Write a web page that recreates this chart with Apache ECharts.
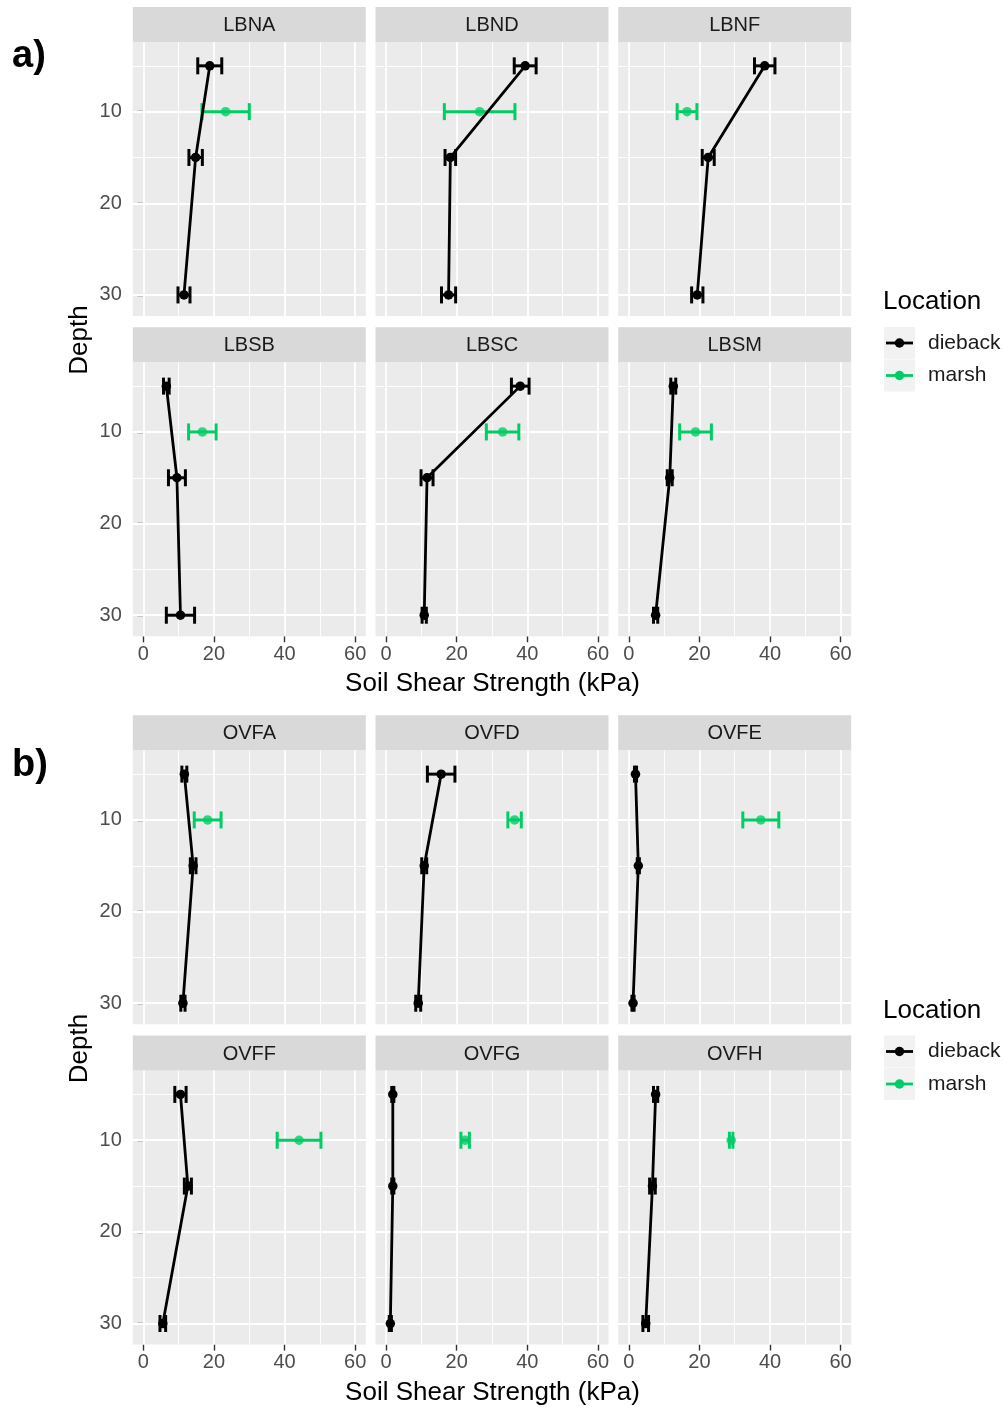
<!DOCTYPE html>
<html>
<head>
<meta charset="utf-8">
<script src="https://cdn.jsdelivr.net/npm/echarts@6/dist/echarts.min.js"></script>
<style>
html,body{margin:0;padding:0;background:#fff;}
#chart{width:1004px;height:1407px;}
</style>
</head>
<body>
<div id="chart"></div>
<script>
// ---------------- DATA ----------------
const sitesA = ['LBNA', 'LBND', 'LBNF', 'LBSB', 'LBSC', 'LBSM'];
const sitesB = ['OVFA', 'OVFD', 'OVFE', 'OVFF', 'OVFG', 'OVFH'];
const diebackDepths = [5, 15, 30];
const marshDepth = 10;
// dieback means (kPa) at depths 5, 15, 30
const diebackMeanA = [[18.8, 14.8, 11.5], [39.4, 18.2, 17.7], [38.5, 22.5, 19.4], [6.5, 9.5, 10.5], [38.0, 11.6, 10.8], [12.6, 11.6, 7.6]];
const diebackErrA  = [[3.4, 1.9, 1.7], [3.1, 1.5, 2.0], [2.9, 1.7, 1.6], [0.8, 2.4, 4.0], [2.5, 1.7, 0.6], [0.7, 0.7, 0.6]];
const marshMeanA = [23.3, 26.5, 16.5, 16.7, 33.0, 18.9];
const marshErrA  = [6.7, 10.0, 2.8, 3.9, 4.6, 4.5];
const diebackMeanB = [[11.6, 14.1, 11.2], [15.6, 10.8, 9.1], [1.9, 2.7, 1.2], [10.5, 12.6, 5.5], [1.9, 1.9, 1.2], [7.6, 6.7, 4.8]];
const diebackErrB  = [[0.7, 0.8, 0.6], [3.9, 0.7, 0.7], [0.3, 0.3, 0.3], [1.6, 1.0, 0.8], [0.3, 0.3, 0.3], [0.6, 0.8, 0.8]];
const marshMeanB = [18.2, 36.4, 37.4, 44.1, 22.4, 29.0];
const marshErrB  = [3.8, 1.9, 5.1, 6.2, 1.2, 0.5];
const xTicks = [0, 20, 40, 60];
const xMinor = [10, 30, 50];
const yTicks = [10, 20, 30];
const yMinor = [5, 15, 25];
const groupNames = ['dieback', 'marsh'];
const xTitle = 'Soil Shear Strength (kPa)';
const yTitle = 'Depth';
const legendTitle = 'Location';
const figLabels = ['a)', 'b)'];

// ---------------- LAYOUT ----------------
const FONT = '"Liberation Sans", Arial, Helvetica, sans-serif';
const BLACK = '#000000';
const GREEN = '#00CD66';
const colLefts = [132.8, 375.5, 618.2];
const PW = 233, PH = 274, STRIP = 35;
const figs = [
  {sites: sitesA, dm: diebackMeanA, de: diebackErrA, mm: marshMeanA, me: marshErrA, tops: [42, 362.3], off: 0},
  {sites: sitesB, dm: diebackMeanB, de: diebackErrB, mm: marshMeanB, me: marshErrB, tops: [750.3, 1070.6], off: 708.5}
];

const grids = [], xAxes = [], yAxes = [], series = [], graphics = [];

function errRender(color) {
  return function (params, api) {
    const lo = api.coord([api.value(0), api.value(2)]);
    const hi = api.coord([api.value(1), api.value(2)]);
    const h = 8.5;
    const st = {stroke: color, lineWidth: 3};
    return {type: 'group', children: [
      {type: 'line', shape: {x1: lo[0], y1: lo[1], x2: hi[0], y2: hi[1]}, style: st},
      {type: 'line', shape: {x1: lo[0], y1: lo[1] - h, x2: lo[0], y2: lo[1] + h}, style: st},
      {type: 'line', shape: {x1: hi[0], y1: hi[1] - h, x2: hi[0], y2: hi[1] + h}, style: st}
    ]};
  };
}

let gi = 0;
figs.forEach((f, fi) => {
  f.sites.forEach((site, si) => {
    const row = Math.floor(si / 3), col = si % 3;
    const left = colLefts[col], top = f.tops[row];
    const isBottom = row === 1, isLeft = col === 0;
    grids.push({left: left, top: top, width: PW, height: PH, show: true, backgroundColor: '#EBEBEB', borderWidth: 0, containLabel: false});
    xAxes.push({
      type: 'value', gridIndex: gi, min: -3, max: 63,
      axisLine: {show: false}, splitLine: {show: false},
      axisTick: {show: isBottom, customValues: xTicks, length: 6, lineStyle: {color: '#333333', width: 1.4}},
      axisLabel: {show: isBottom, customValues: xTicks, fontSize: 20, color: '#4D4D4D', margin: 8, fontFamily: FONT}
    });
    yAxes.push({
      type: 'value', gridIndex: gi, inverse: true, min: 2.4, max: 32.3,
      axisLine: {show: false}, splitLine: {show: false},
      axisTick: {show: isLeft, customValues: yTicks, length: 6, lineStyle: {color: '#333333', width: 1.4}},
      axisLabel: {show: isLeft, customValues: yTicks, fontSize: 20, color: '#4D4D4D', margin: 11, fontFamily: FONT}
    });
    // grid lines
    const ml = [];
    yMinor.forEach(v => ml.push({yAxis: v, lineStyle: {color: '#FFFFFF', width: 0.9, type: 'solid'}}));
    xMinor.forEach(v => ml.push({xAxis: v, lineStyle: {color: '#FFFFFF', width: 0.9, type: 'solid'}}));
    yTicks.forEach(v => ml.push({yAxis: v, lineStyle: {color: '#FFFFFF', width: 1.8, type: 'solid'}}));
    xTicks.forEach(v => ml.push({xAxis: v, lineStyle: {color: '#FFFFFF', width: 1.8, type: 'solid'}}));
    series.push({
      type: 'line', xAxisIndex: gi, yAxisIndex: gi, data: [], z: 1, silent: true,
      markLine: {z: 1, silent: true, symbol: ['none', 'none'], label: {show: false}, animation: false, emphasis: {disabled: true}, data: ml}
    });
    // dieback error bars
    const dErr = diebackDepths.map((d, k) => [f.dm[si][k] - f.de[si][k], f.dm[si][k] + f.de[si][k], d]);
    series.push({type: 'custom', xAxisIndex: gi, yAxisIndex: gi, z: 3, silent: true,
      renderItem: errRender(BLACK), encode: {x: [0, 1], y: 2}, data: dErr});
    // dieback line + points
    series.push({type: 'line', name: groupNames[0], xAxisIndex: gi, yAxisIndex: gi, z: 4, silent: true,
      data: diebackDepths.map((d, k) => [f.dm[si][k], d]),
      symbol: 'circle', symbolSize: 9.5, showSymbol: true,
      lineStyle: {color: BLACK, width: 2.8}, itemStyle: {color: BLACK}, emphasis: {disabled: true}});
    // marsh error bar
    series.push({type: 'custom', xAxisIndex: gi, yAxisIndex: gi, z: 3, silent: true,
      renderItem: errRender(GREEN), encode: {x: [0, 1], y: 2},
      data: [[f.mm[si] - f.me[si], f.mm[si] + f.me[si], marshDepth]]});
    series.push({type: 'scatter', name: groupNames[1], xAxisIndex: gi, yAxisIndex: gi, z: 4, silent: true,
      data: [[f.mm[si], marshDepth]], symbol: 'circle', symbolSize: 9.5, itemStyle: {color: GREEN}, emphasis: {disabled: true}});
    // strip
    graphics.push({type: 'rect', shape: {x: left, y: top - STRIP, width: PW, height: STRIP}, style: {fill: '#D9D9D9'}, silent: true});
    graphics.push({type: 'text', x: left + PW / 2, y: top - STRIP / 2 + 1, silent: true,
      style: {text: site, fontSize: 20, fill: '#1A1A1A', align: 'center', verticalAlign: 'middle', fontFamily: FONT}});
    gi++;
  });
  const off = f.off;
  // axis titles
  graphics.push({type: 'text', x: 492.5, y: 684 + off, silent: true,
    style: {text: xTitle, fontSize: 26, fill: '#000', align: 'center', verticalAlign: 'middle', fontFamily: FONT}});
  graphics.push({type: 'text', x: 80, y: 340 + off, rotation: Math.PI / 2, silent: true,
    style: {text: yTitle, fontSize: 26, fill: '#000', align: 'center', verticalAlign: 'middle', fontFamily: FONT}});
  // figure label
  graphics.push({type: 'text', x: 12, y: 57 + off, silent: true,
    style: {text: figLabels[fi], fontSize: 38, fontWeight: 'bold', fill: '#000', align: 'left', verticalAlign: 'middle', fontFamily: FONT}});
  // legend
  graphics.push({type: 'text', x: 883, y: 302 + off, silent: true,
    style: {text: legendTitle, fontSize: 26, fill: '#000', align: 'left', verticalAlign: 'middle', fontFamily: FONT}});
  [BLACK, GREEN].forEach((c, k) => {
    const cy = 343 + off + k * 32.5;
    graphics.push({type: 'rect', shape: {x: 884, y: cy - 16, width: 31, height: 32}, style: {fill: '#F2F2F2'}, silent: true});
    graphics.push({type: 'line', shape: {x1: 886, y1: cy, x2: 913, y2: cy}, style: {stroke: c, lineWidth: 2.8}, silent: true});
    graphics.push({type: 'circle', shape: {cx: 899.5, cy: cy, r: 4.75}, style: {fill: c}, silent: true});
    graphics.push({type: 'text', x: 928, y: cy, silent: true,
      style: {text: groupNames[k], fontSize: 21, fill: '#1A1A1A', align: 'left', verticalAlign: 'middle', fontFamily: FONT}});
  });
});

const chart = echarts.init(document.getElementById('chart'), null, {renderer: 'canvas'});
chart.setOption({
  animation: false,
  backgroundColor: '#FFFFFF',
  textStyle: {fontFamily: FONT},
  grid: grids, xAxis: xAxes, yAxis: yAxes, series: series,
  graphic: {elements: graphics}
});
</script>
</body>
</html>
